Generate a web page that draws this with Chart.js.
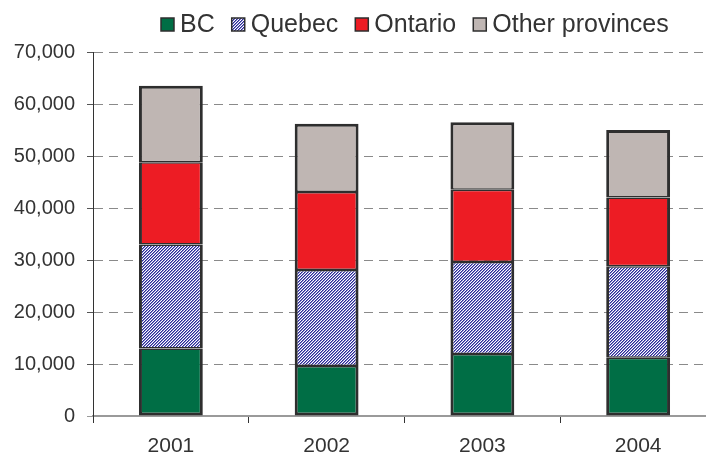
<!DOCTYPE html>
<html>
<head>
<meta charset="utf-8">
<script src="https://cdn.jsdelivr.net/npm/chart.js@4/dist/chart.umd.min.js"></script>
<style>
  html, body { margin: 0; padding: 0; background: #fff; overflow: hidden; }
  canvas { display: block; }
</style>
</head>
<body>
<canvas id="chart" width="716" height="458"></canvas>
<script>
// Immigrants by province of destination, 2001-2004
const years = ['2001', '2002', '2003', '2004'];
const bcValues = [13000, 9600, 11900, 11200];
const quebecValues = [20000, 18500, 17700, 17600];
const ontarioValues = [15800, 15000, 13900, 13200];
const otherValues = [14700, 13100, 13000, 13000];
const yTicks = [0, 10000, 20000, 30000, 40000, 50000, 60000, 70000];

const FONT = '"Liberation Sans", Arial, Helvetica, sans-serif';
const TEXT = '#333333';
const EDGE = '#2e2e2e';

// Fine diagonal hatch used for the Quebec series
function makeHatch() {
  const tile = document.createElement('canvas');
  tile.width = 3; tile.height = 3;
  const t = tile.getContext('2d');
  const shades = ['#2a2a94', '#8484cc', '#ffffff'];
  for (let y = 0; y < 3; y++) {
    for (let x = 0; x < 3; x++) {
      t.fillStyle = shades[(x + y) % 3];
      t.fillRect(x, y, 1, 1);
    }
  }
  return document.getElementById('chart').getContext('2d').createPattern(tile, 'repeat');
}
const hatch = makeHatch();

// Legend row across the top, drawn from the dataset styles
const topLegend = {
  id: 'topLegend',
  afterDraw(chart) {
    const ctx = chart.ctx;
    ctx.save();
    ctx.font = '25px ' + FONT;
    ctx.textBaseline = 'alphabetic';
    let x = 161;
    const box = 13, baseline = 32;
    chart.data.datasets.forEach(ds => {
      ctx.fillStyle = ds.backgroundColor;
      ctx.fillRect(x, baseline - box - 1, box, box);
      ctx.lineWidth = 1.5;
      ctx.strokeStyle = EDGE;
      ctx.strokeRect(x, baseline - box - 1, box, box);
      ctx.fillStyle = TEXT;
      ctx.fillText(ds.label, x + box + 6, baseline);
      x += box + 6 + ctx.measureText(ds.label).width + 17;
    });
    ctx.restore();
  }
};

// Outer edges of each stack are thick; shared edges split between neighbours
function edgeWidths(ctx) {
  const last = ctx.chart.data.datasets.length - 1;
  const i = ctx.datasetIndex;
  return {
    left: 3,
    right: 3,
    top: i === last ? 3 : 1.5,
    bottom: i === 0 ? 3 : 1.5
  };
}

function series(label, data, color) {
  return {
    label, data,
    backgroundColor: color,
    borderColor: EDGE,
    borderWidth: edgeWidths,
    borderSkipped: false,
    barPercentage: 0.41,
    categoryPercentage: 1.0
  };
}

new Chart(document.getElementById('chart'), {
  type: 'bar',
  data: {
    labels: years,
    datasets: [
      series('BC', bcValues, '#006e45'),
      series('Quebec', quebecValues, hatch),
      series('Ontario', ontarioValues, '#ed1c24'),
      series('Other provinces', otherValues, '#bfb6b3')
    ]
  },
  plugins: [topLegend],
  options: {
    responsive: false,
    animation: false,
    devicePixelRatio: 1,
    layout: { padding: { top: 52, right: 0, bottom: 0, left: 0 } },
    plugins: {
      legend: { display: false },
      tooltip: { enabled: false }
    },
    scales: {
      x: {
        stacked: true,
        offset: true,
        afterFit(scale) { scale.height = 42; },
        grid: {
          offset: true,
          drawOnChartArea: false,
          drawTicks: true,
          tickLength: 7,
          tickColor: '#333333',
          color: '#333333'
        },
        border: { display: true, color: '#9a9a9a', width: 2 },
        ticks: {
          color: TEXT,
          font: { family: FONT, size: 21 },
          padding: 11
        }
      },
      y: {
        stacked: true,
        min: 0,
        max: 70000,
        afterFit(scale) { scale.width = 93; },
        afterBuildTicks(scale) { scale.ticks = yTicks.map(v => ({ value: v })); },
        grid: {
          color: ctx => (ctx.tick && ctx.tick.value === 0) ? 'rgba(0,0,0,0)' : '#8a8a8a',
          lineWidth: 1,
          drawTicks: true,
          tickLength: 6,
          tickColor: ctx => (ctx.tick && ctx.tick.value === 0) ? '#9a9a9a' : '#555555',
          tickBorderDash: []
        },
        border: { display: true, color: '#333333', width: 1, dash: [9, 6] },
        ticks: {
          color: TEXT,
          font: { family: FONT, size: 20 },
          padding: 12,
          callback: v => Number(v).toLocaleString('en-US')
        }
      }
    }
  }
});
</script>
</body>
</html>
